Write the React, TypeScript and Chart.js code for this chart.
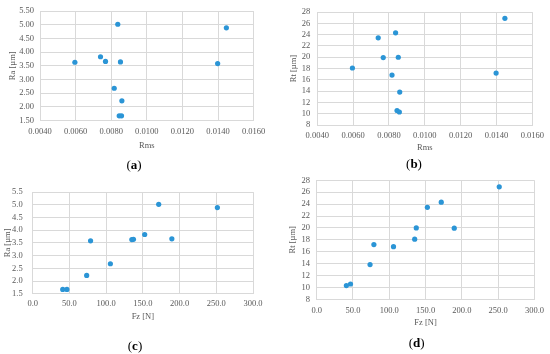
import React, { useEffect, useRef } from "react";
import { Chart, registerables } from "chart.js";

Chart.register(...registerables);

// ---- data (11 samples) ----
const rms = [0.00596, 0.0074, 0.00768, 0.00817, 0.00837, 0.00845, 0.00852, 0.00858, 0.0086, 0.01398, 0.01447];
const ra = [3.63, 3.83, 3.66, 2.68, 5.02, 1.67, 3.64, 1.67, 2.22, 3.58, 4.89];
const rt = [18.1, 23.45, 19.95, 16.85, 24.33, 10.57, 20.0, 10.3, 13.83, 17.2, 26.9];
const fz = [135, 152.5, 189.5, 105.8, 171.6, 46.6, 137.2, 40.9, 73.5, 78.8, 251.5];

// ---- tick values ----
const rmsTicks = [0.004, 0.006, 0.008, 0.01, 0.012, 0.014, 0.016];
const raTicks = [1.5, 2.0, 2.5, 3.0, 3.5, 4.0, 4.5, 5.0, 5.5];
const rtTicks = [8, 10, 12, 14, 16, 18, 20, 22, 24, 26, 28];
const fzTicks = [0, 50, 100, 150, 200, 250, 300];

const BLUE = "#2B95D6";
const GRID = "#D9D9D9";
const TEXT = "#595959";
const FONT = "'Liberation Serif', 'Times New Roman', serif";

type Geo = {
  left: number; top: number; w: number; h: number; canvasTop: number;
  plotLeft: number; plotTop: number; plotRight: number; plotBottom: number;
  xTitlePad: number; yTitlePad: number; xTickPad: number; yTickPad: number;
};

type PanelProps = {
  xs: number[]; ys: number[]; xTicks: number[]; yTicks: number[];
  xDec: number; yDec: number; xTitle: string; yTitle: string; geo: Geo;
};

function Panel({ xs, ys, xTicks, yTicks, xDec, yDec, xTitle, yTitle, geo }: PanelProps) {
  const ref = useRef<HTMLCanvasElement | null>(null);
  useEffect(() => {
    if (!ref.current) return;
    const g = geo;
    const font = { family: FONT, size: 8.5 };
    const chart = new Chart(ref.current, {
      type: "scatter",
      data: {
        datasets: [
          {
            data: xs.map((x, i) => ({ x, y: ys[i] })),
            backgroundColor: BLUE,
            borderColor: BLUE,
            borderWidth: 0,
            pointRadius: 2.6,
            pointHoverRadius: 2.6,
          },
        ],
      },
      options: {
        animation: false,
        responsive: false,
        maintainAspectRatio: false,
        devicePixelRatio: 1,
        layout: { padding: { top: g.plotTop, right: g.w - g.plotRight, left: 0, bottom: 0 } },
        plugins: { legend: { display: false }, tooltip: { enabled: false } },
        scales: {
          x: {
            type: "linear",
            min: xTicks[0],
            max: xTicks[xTicks.length - 1],
            afterBuildTicks: (s: any) => { s.ticks = xTicks.map((v) => ({ value: v })); },
            afterFit: (s: any) => { s.height = g.h - g.plotBottom; },
            grid: { color: GRID, drawTicks: false, lineWidth: 1 },
            border: { color: GRID, width: 1 },
            ticks: {
              padding: g.xTickPad, font, color: TEXT, maxRotation: 0, autoSkip: false,
              callback: (v: any) => Number(v).toFixed(xDec),
            },
            title: { display: true, text: xTitle, font, color: TEXT, padding: { top: 0, bottom: g.xTitlePad } },
          },
          y: {
            type: "linear",
            min: yTicks[0],
            max: yTicks[yTicks.length - 1],
            afterBuildTicks: (s: any) => { s.ticks = yTicks.map((v) => ({ value: v })); },
            afterFit: (s: any) => { s.width = g.plotLeft; },
            grid: { color: GRID, drawTicks: false, lineWidth: 1 },
            border: { color: GRID, width: 1 },
            ticks: {
              padding: g.yTickPad, font, color: TEXT, autoSkip: false,
              callback: (v: any) => Number(v).toFixed(yDec),
            },
            title: { display: true, text: yTitle, font, color: TEXT, padding: { top: g.yTitlePad, bottom: 0 } },
          },
        },
      } as any,
    });
    return () => chart.destroy();
  }, []);
  return (
    <div style={{ position: "absolute", left: geo.left, top: geo.top, width: geo.w, height: 177, overflow: "hidden" }}>
      <canvas
        ref={ref}
        width={geo.w}
        height={geo.h}
        style={{ position: "absolute", left: 0, top: geo.canvasTop, width: geo.w, height: geo.h }}
      />
    </div>
  );
}

function Caption({ letter, x, y }: { letter: string; x: number; y: number }) {
  return (
    <div
      style={{
        position: "absolute", left: x, top: y, transform: "translate(-50%, -50%)",
        fontFamily: FONT, fontSize: 13, color: "#000", whiteSpace: "nowrap", lineHeight: 1,
      }}
    >
      (<b>{letter}</b>)
    </div>
  );
}

const geoA: Geo = { left: 0, top: 0, w: 275, h: 177, canvasTop: 0, plotLeft: 40, plotTop: 8.3, plotRight: 253.6, plotBottom: 120.5, xTitlePad: 25.9, yTitlePad: 8, xTickPad: 6, yTickPad: 6 };
const geoB: Geo = { left: 275, top: 0, w: 275, h: 177, canvasTop: 0, plotLeft: 42.3, plotTop: 7.3, plotRight: 258.3, plotBottom: 125, xTitlePad: 24.2, yTitlePad: 14, xTickPad: 6, yTickPad: 7 };
const geoC: Geo = { left: 0, top: 177, w: 275, h: 177, canvasTop: 0, plotLeft: 32.7, plotTop: 13, plotRight: 253, plotBottom: 116.7, xTitlePad: 32.6, yTitlePad: 3, xTickPad: 5, yTickPad: 10 };
const geoD: Geo = { left: 275, top: 177, w: 275, h: 187, canvasTop: -10, plotLeft: 41.7, plotTop: 13.3, plotRight: 261.7, plotBottom: 132.3, xTitlePad: 26.2, yTitlePad: 13, xTickPad: 6, yTickPad: 6.7 };

export default function App() {
  return (
    <div style={{ position: "absolute", left: 0, top: 0, width: 550, height: 354, background: "#fff", overflow: "hidden" }}>
      <Panel xs={rms} ys={ra} xTicks={rmsTicks} yTicks={raTicks} xDec={4} yDec={2} xTitle="Rms" yTitle="Ra [µm]" geo={geoA} />
      <Panel xs={rms} ys={rt} xTicks={rmsTicks} yTicks={rtTicks} xDec={4} yDec={0} xTitle="Rms" yTitle="Rt [µm]" geo={geoB} />
      <Panel xs={fz} ys={ra} xTicks={fzTicks} yTicks={raTicks} xDec={1} yDec={1} xTitle="Fz [N]" yTitle="Ra [µm]" geo={geoC} />
      <Panel xs={fz} ys={rt} xTicks={fzTicks} yTicks={rtTicks} xDec={1} yDec={0} xTitle="Fz [N]" yTitle="Rt [µm]" geo={geoD} />
      <Caption letter="a" x={134} y={164} />
      <Caption letter="b" x={414} y={163} />
      <Caption letter="c" x={135} y={345} />
      <Caption letter="d" x={416.7} y={342} />
    </div>
  );
}
